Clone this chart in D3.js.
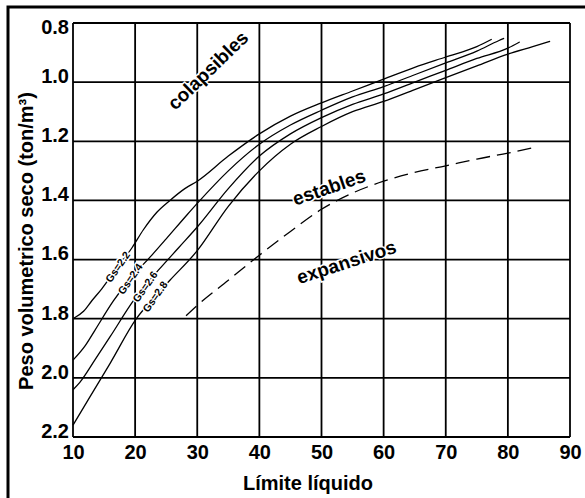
<html>
<head>
<script src="https://d3js.org/d3.v7.min.js"></script>
<style>
  body { margin: 0; background: #fff; }
  text { font-family: Arial, "Liberation Sans", sans-serif; font-weight: bold; }
</style>
</head>
<body>
<script>
// axis ticks
var xTicks = [10, 20, 30, 40, 50, 60, 70, 80, 90];
var yTicks = [0.8, 1.0, 1.2, 1.4, 1.6, 1.8, 2.0, 2.2];

// curves: [limite liquido, peso volumetrico seco]
var gs22 = [[10,1.80],[11.7,1.775],[13,1.74],[14.6,1.70],[17,1.63],[19.5,1.56],[21.3,1.50],[23.5,1.44],[25.6,1.40],[28,1.36],[30,1.335],[35,1.25],[40,1.175],[45,1.115],[50,1.07],[55,1.03],[60,0.99],[65,0.95],[70,0.915],[75,0.88],[77.4,0.855]];
var gs24 = [[10,1.94],[12,1.89],[13.5,1.84],[16.5,1.74],[19,1.67],[22.7,1.585],[25,1.53],[28.3,1.45],[30,1.41],[35,1.30],[40,1.21],[45,1.145],[50,1.095],[55,1.05],[60,1.015],[65,0.975],[70,0.935],[75,0.895],[78.5,0.86],[79.4,0.852]];
var gs26 = [[10,2.04],[11.1,2.015],[13.5,1.94],[16,1.86],[19.7,1.74],[24,1.63],[27,1.56],[30,1.49],[35,1.36],[40,1.25],[45,1.175],[50,1.12],[55,1.075],[60,1.04],[65,1.0],[70,0.96],[75,0.92],[80,0.885],[81.9,0.864]];
var gs28 = [[10,2.16],[12.7,2.065],[16,1.95],[20.2,1.80],[23,1.73],[25.6,1.67],[30,1.57],[35,1.42],[40,1.30],[45,1.21],[50,1.15],[55,1.10],[60,1.065],[65,1.025],[70,0.985],[75,0.945],[80,0.905],[84,0.88],[86.8,0.862]];
var expansive = [[28.2,1.79],[30,1.755],[35,1.67],[40,1.585],[45,1.505],[50,1.43],[55,1.375],[60,1.335],[65,1.305],[70,1.283],[75,1.26],[80,1.24],[84.4,1.22]];

var curveNames = ["Gs=2.2", "Gs=2.4", "Gs=2.6", "Gs=2.8"];
var curveLabelAt = [17.2, 19.2, 21.6, 23.2];   // x where each Gs label sits
var zoneNames = ["colapsibles", "estables", "expansivos"];
var zoneAt = [[31.7, 0.96], [51.2, 1.355], [54.0, 1.608]];
var zoneAngle = [-44, -19, -18];

var width = 585, height = 498;
var margin = {top: 23, right: 15, bottom: 61, left: 73};

var svg = d3.select("body").append("svg")
    .attr("width", width)
    .attr("height", height);

var x = d3.scaleLinear()
    .domain([10, 90])
    .range([margin.left, width - margin.right]);

var y = d3.scaleLinear()
    .domain([0.8, 2.2])
    .range([margin.top, height - margin.bottom]);

// outer frame (top and left edges only, as in the scan)
svg.append("path")
    .attr("d", "M8," + (height) + "V7H" + width)
    .attr("fill", "none")
    .attr("stroke", "#000")
    .attr("stroke-width", 3);

// grid
var grid = svg.append("g").attr("stroke", "#000").attr("stroke-width", 1.8);
grid.selectAll(".vx").data(xTicks).enter().append("line")
    .attr("x1", d => x(d)).attr("x2", d => x(d))
    .attr("y1", y(0.8)).attr("y2", y(2.2));
grid.selectAll(".hy").data(yTicks).enter().append("line")
    .attr("x1", x(10)).attr("x2", x(90))
    .attr("y1", d => y(d)).attr("y2", d => y(d));

// axes (labels only, lines come from the grid)
var xAxis = svg.append("g")
    .attr("transform", "translate(0," + y(2.2) + ")")
    .call(d3.axisBottom(x).tickValues(xTicks).tickSize(0).tickPadding(8).tickFormat(d3.format("d")));
xAxis.select(".domain").remove();
xAxis.selectAll("text").attr("font-size", 20).attr("font-family", null).attr("fill", "#000");

var yAxis = svg.append("g")
    .attr("transform", "translate(" + x(10) + ",0)")
    .call(d3.axisLeft(y).tickValues(yTicks).tickSize(0).tickPadding(4).tickFormat(d3.format(".1f")));
yAxis.select(".domain").remove();
yAxis.selectAll("text")
    .attr("font-size", 20).attr("font-family", null).attr("fill", "#000")
    .attr("y", d => d == 0.8 ? 4 : -6);

svg.append("text")
    .attr("x", 308)
    .attr("y", 490)
    .attr("text-anchor", "middle")
    .attr("font-size", 20)
    .text("Límite líquido");

svg.append("text")
    .attr("transform", "translate(33,241) rotate(-90)")
    .attr("text-anchor", "middle")
    .attr("font-size", 20)
    .text("Peso volumetrico seco (ton/m³)");

// curves
var line = d3.line()
    .x(d => x(d[0]))
    .y(d => y(d[1]))
    .curve(d3.curveMonotoneX);

var curves = [gs22, gs24, gs26, gs28];
svg.selectAll(".gs").data(curves).enter().append("path")
    .attr("d", line)
    .attr("fill", "none")
    .attr("stroke", "#000")
    .attr("stroke-width", 1.3);

svg.append("path")
    .attr("d", line(expansive))
    .attr("fill", "none")
    .attr("stroke", "#000")
    .attr("stroke-width", 1.3)
    .attr("stroke-dasharray", "14,7");

// Gs labels sit on their curves and cut them
function yOn(c, xv) {
    for (var i = 1; i < c.length; i++) {
        if (c[i][0] >= xv) {
            var t = (xv - c[i-1][0]) / (c[i][0] - c[i-1][0]);
            return c[i-1][1] + t * (c[i][1] - c[i-1][1]);
        }
    }
    return c[c.length - 1][1];
}
svg.selectAll(".gslab").data(curveNames).enter().append("text")
    .attr("transform", (d, i) => "translate(" + x(curveLabelAt[i]) + "," + y(yOn(curves[i], curveLabelAt[i])) + ") rotate(-55)")
    .attr("text-anchor", "middle")
    .attr("dy", "0.35em")
    .attr("font-size", 10.5)
    .attr("stroke", "#fff")
    .attr("stroke-width", 3)
    .attr("paint-order", "stroke")
    .text(d => d);

// zone names
svg.selectAll(".zone").data(zoneNames).enter().append("text")
    .attr("transform", (d, i) => "translate(" + x(zoneAt[i][0]) + "," + y(zoneAt[i][1]) + ") rotate(" + zoneAngle[i] + ")")
    .attr("text-anchor", "middle")
    .attr("dy", "0.35em")
    .attr("font-size", 19)
    .attr("stroke", "#fff")
    .attr("stroke-width", 3)
    .attr("paint-order", "stroke")
    .text(d => d);
</script>
</body>
</html>
